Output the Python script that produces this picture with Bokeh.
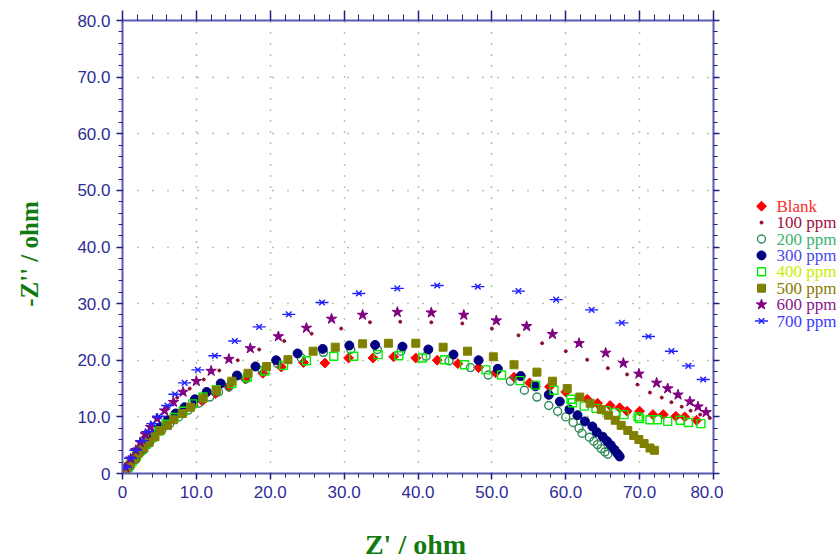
import math
from bokeh.plotting import figure
from bokeh.models import (LinearAxis, SingleIntervalTicker, CustomJSTickFormatter,
                          Range1d, ColumnDataSource)
from bokeh.layouts import row, column
from bokeh.embed import file_html
from bokeh.resources import INLINE
from bokeh.core.properties import value

# ---------------- data (Z' , -Z'' in ohm) ----------------
blank_x = [0.3, 0.7, 1.1, 1.6, 2.2, 2.8, 3.5, 4.3, 5.2, 6.2, 7.3, 8.5, 9.6, 10.8, 12.6, 14.4, 16.6,
           19.0, 21.5, 24.5, 27.4, 30.6, 33.9, 36.7, 39.7, 42.6, 45.4, 48.2, 50.5, 53.0, 55.1, 57.8,
           60.0, 62.9, 64.3, 66.0, 67.3, 68.3, 70.0, 71.8, 73.2, 74.9, 76.1, 77.7]
blank_y = [0.4, 1.1, 1.9, 2.8, 3.8, 4.8, 5.9, 7.0, 8.2, 9.3, 10.4, 11.4, 12.1, 12.8, 14.1, 15.3, 16.7,
           17.7, 18.8, 19.6, 19.5, 20.4, 20.4, 20.6, 20.4, 20.0, 19.4, 18.7, 17.8, 17.0, 16.0, 15.3,
           14.4, 13.1, 12.4, 12.0, 11.6, 11.0, 11.0, 10.4, 10.4, 10.1, 10.0, 9.4]

p100_x = [0.5, 1.2, 2.0, 2.8, 3.8, 4.9, 6.1, 7.4, 9.1, 11.0, 13.1, 15.6, 18.5, 21.9, 25.6, 29.6, 33.5,
          37.6, 41.8, 46.0, 50.0, 53.6, 56.8, 60.0, 62.9, 65.7, 68.3, 69.7, 71.4, 73.0, 74.3, 75.7,
          76.9, 78.2, 79.5]
p100_y = [1.2, 2.8, 4.6, 6.4, 8.1, 9.9, 11.7, 13.4, 15.0, 16.6, 18.2, 20.0, 21.9, 23.4, 24.7, 25.6, 26.7,
          26.8, 26.7, 26.5, 25.6, 24.4, 23.0, 21.6, 20.1, 18.6, 17.5, 15.7, 14.3, 13.4, 12.6, 11.8,
          11.1, 10.4, 9.8]

p200_x = [0.8, 1.6, 2.5, 3.4, 4.3, 5.3, 6.4, 7.6, 8.9, 10.3, 11.8, 13.0, 14.4, 16.7, 18.9, 21.0, 24.2,
          27.2, 30.9, 34.5, 37.7, 41.1, 44.2, 47.1, 49.5, 52.5, 54.4, 56.1, 57.7, 58.9, 60.0, 61.0,
          61.8, 62.2, 63.2, 63.8, 64.3, 64.8, 65.3, 65.7]
p200_y = [1.0, 2.4, 3.8, 5.1, 6.4, 7.6, 8.8, 10.0, 11.2, 12.4, 13.5, 14.4, 15.3, 16.7, 18.2, 19.4, 20.4,
          21.4, 21.9, 21.9, 21.6, 20.7, 19.9, 18.7, 17.4, 16.3, 14.7, 13.5, 12.0, 11.0, 10.0, 9.0,
          8.0, 7.1, 6.4, 5.7, 5.1, 4.4, 3.8, 3.4]

p300_x = [0.9, 1.8, 2.7, 3.6, 4.2, 5.1, 6.1, 7.2, 8.4, 9.8, 11.4, 13.3, 15.5, 18.0, 20.8, 23.7, 27.1,
          30.7, 34.2, 37.9, 41.4, 44.8, 48.2, 50.8, 53.9, 55.9, 57.7, 59.2, 60.5, 61.6, 62.6, 63.6,
          64.2, 65.0, 65.6, 66.1, 66.6, 67.0, 67.3]
p300_y = [1.1, 2.6, 4.1, 5.5, 6.9, 8.2, 9.4, 10.6, 11.7, 13.1, 14.4, 15.9, 17.3, 18.9, 20.0, 21.2, 22.0,
          22.6, 22.7, 22.4, 21.9, 21.0, 20.0, 18.5, 17.2, 15.4, 13.9, 12.7, 11.3, 10.3, 9.2, 8.3,
          7.3, 6.5, 5.7, 5.0, 4.2, 3.5, 3.0]

p400_x = [0.3, 0.8, 1.3, 1.9, 2.5, 3.2, 4.0, 4.9, 5.9, 7.0, 8.2, 9.5, 10.9, 12.7, 14.8, 16.9, 19.3,
          21.8, 24.9, 28.6, 31.3, 34.6, 37.4, 40.6, 43.6, 46.3, 49.2, 51.3, 53.8, 55.9, 58.4, 60.7,
          60.9, 62.5, 64.1, 65.5, 66.7, 67.9, 69.8, 70.0, 71.4, 72.4, 73.8, 75.5, 76.6, 78.3]
p400_y = [0.3, 1.2, 2.1, 3.1, 4.1, 5.2, 6.3, 7.5, 8.7, 9.9, 11.0, 12.3, 13.5, 14.8, 15.9, 17.0, 18.1,
          19.1, 19.9, 20.7, 20.7, 21.0, 20.8, 20.4, 20.1, 19.2, 18.3, 17.4, 16.4, 15.6, 14.7, 13.1,
          12.5, 11.9, 11.5, 11.1, 10.7, 10.4, 10.0, 9.7, 9.5, 9.5, 9.2, 9.4, 9.0, 8.8]

p500_x = [0.2, 0.6, 1.1, 1.7, 2.2, 2.9, 3.6, 4.4, 5.1, 6.1, 6.9, 8.1, 9.2, 10.9, 12.7, 14.8, 17.0,
          19.5, 22.4, 25.8, 28.8, 32.5, 36.0, 39.7, 43.4, 46.7, 50.2, 53.0, 56.1, 58.2, 60.2, 61.9,
          63.3, 64.8, 65.8, 66.7, 67.5, 68.4, 69.2, 69.9, 70.6, 71.4, 72.0]
p500_y = [0.2, 0.8, 1.7, 2.6, 3.6, 4.5, 5.5, 6.5, 7.6, 8.5, 9.5, 10.6, 11.7, 13.3, 14.7, 16.3, 17.7,
          18.9, 20.1, 21.6, 22.3, 22.9, 23.0, 23.0, 22.3, 21.6, 20.6, 19.2, 17.9, 16.3, 15.0, 13.5,
          12.4, 11.3, 10.3, 9.4, 8.5, 7.6, 6.7, 6.0, 5.3, 4.5, 4.1]

p600_x = [0.4, 1.1, 1.8, 2.4, 3.1, 3.8, 4.7, 5.7, 6.9, 8.2, 10.0, 12.0, 14.4, 17.3, 21.1, 24.9, 28.3,
          32.5, 37.2, 41.8, 46.2, 50.6, 54.7, 58.2, 61.8, 65.4, 67.8, 69.9, 72.3, 73.8, 75.2, 76.8,
          77.9, 79.0]
p600_y = [1.1, 2.6, 4.1, 5.5, 6.9, 8.2, 9.7, 11.1, 12.6, 14.4, 16.3, 18.1, 20.2, 22.1, 24.2, 25.7, 27.3,
          28.0, 28.5, 28.4, 28.0, 27.0, 26.0, 24.6, 23.0, 21.3, 19.5, 17.6, 16.0, 15.0, 13.9, 12.7,
          11.8, 10.8]

p700_x = [0.4, 1.1, 1.8, 2.7, 3.4, 4.1, 4.9, 6.1, 7.1, 8.4, 10.2, 12.5, 15.2, 18.5, 22.5, 27.0, 32.0,
          37.2, 42.6, 48.1, 53.6, 58.7, 63.5, 67.6, 71.2, 74.3, 76.6, 78.6]
p700_y = [1.1, 2.7, 4.1, 5.8, 7.4, 8.8, 10.1, 12.0, 14.0, 16.0, 18.3, 20.8, 23.4, 25.9, 28.1, 30.2, 31.8,
          32.7, 33.2, 33.0, 32.2, 30.7, 28.9, 26.6, 24.2, 21.6, 19.0, 16.6]

series_names = ["Blank", "100 ppm", "200 ppm", "300 ppm", "400 ppm", "500 ppm", "600 ppm", "700 ppm"]
xs = [blank_x, p100_x, p200_x, p300_x, p400_x, p500_x, p600_x, p700_x]
ys = [blank_y, p100_y, p200_y, p300_y, p400_y, p500_y, p600_y, p700_y]
label_colors = ["#ff2a2a", "#a0103a", "#3cb371", "#4a4aee", "#c8f000", "#8a7a00", "#8a168a", "#3a3aff"]

x_title = "Z' / ohm"
y_title = "-Z'' / ohm"

# ---------------- styles ----------------
styles = [
    [dict(marker="square", angle=math.pi / 4, size=7, fill_color="#ff0000", line_color="#ff0000")],
    [dict(marker="circle", size=3, fill_color="#8b1030", line_color="#8b1030")],
    [dict(marker="circle", size=8, fill_color=None, line_color="#2e8b57", line_width=1.4)],
    [dict(marker="circle", size=9, fill_color="#000080", line_color="#000080")],
    [dict(marker="square", size=8, fill_color=None, line_color="#00ee00", line_width=1.4)],
    [dict(marker="square", size=8, fill_color="#808000", line_color="#808000")],
    [dict(marker="star", size=11, fill_color="#800080", line_color="#800080")],
    [dict(marker="x", size=8, line_color="#2020ff", line_width=1.4),
     dict(marker="dash", size=13, line_color="#2020ff", line_width=1.4)],
]

LEFT_W = 50      # strip holding the y title
MAIN_W = 673     # main plot (frame 591 px wide)
MAIN_H = 526
LW = 113         # legend strip
TOTAL_W = LEFT_W + MAIN_W + LW
BOT_H = 34
FR_TOP = 20      # frame top (px from top)
FR_BOT = 473     # frame bottom (px from top)
TITLE_C = "#117a11"


def blank_fig(w, h, yr=None):
    f = figure(width=w, height=h, x_range=Range1d(0, w),
               y_range=yr if yr is not None else Range1d(0, h),
               output_backend="svg", toolbar_location=None, min_border=0,
               outline_line_color=None, background_fill_color="white", border_fill_color="white")
    f.axis.visible = False
    f.grid.visible = False
    return f


p = figure(width=MAIN_W, height=MAIN_H, x_range=Range1d(0, 80), y_range=Range1d(0, 80),
           output_backend="svg", toolbar_location=None,
           min_border_left=72, min_border_right=10, min_border_top=FR_TOP,
           min_border_bottom=MAIN_H - FR_BOT, outline_line_color=None,
           background_fill_color="white", border_fill_color="white")

ticker = SingleIntervalTicker(interval=10, num_minor_ticks=5)
fmt = CustomJSTickFormatter(code="return tick == 0 ? '0' : tick.toFixed(1);")
nofmt = CustomJSTickFormatter(code="return '';")

AX_LINE = "#5a5ab4"
TICK_C = "#1e1e80"
LAB_C = "#2d2d96"

for ax in (p.xaxis[0], p.yaxis[0]):
    ax.ticker = ticker
    ax.formatter = fmt
    ax.axis_line_color = AX_LINE
    ax.axis_line_width = 2
    ax.major_tick_line_color = TICK_C
    ax.minor_tick_line_color = TICK_C
    ax.major_tick_line_width = 1.5
    ax.major_tick_in = 0
    ax.major_tick_out = 6
    ax.minor_tick_in = 0
    ax.minor_tick_out = 4
    ax.major_label_text_font = "Liberation Sans"
    ax.major_label_text_font_size = "17px"
    ax.major_label_text_color = LAB_C
    ax.major_label_standoff = 6

for side, tick_out, minor_out in (("above", 10, 6), ("right", 6, 4)):
    extra = LinearAxis(ticker=ticker, formatter=nofmt, major_label_text_font_size="1px",
                       major_label_standoff=0,
                       axis_line_color=AX_LINE, axis_line_width=2,
                       major_tick_line_color=TICK_C, minor_tick_line_color=TICK_C,
                       major_tick_line_width=1.5,
                       major_tick_in=0, major_tick_out=tick_out, minor_tick_in=0, minor_tick_out=minor_out)
    p.add_layout(extra, side)

p.xgrid.ticker = ticker
p.ygrid.ticker = ticker
p.grid.grid_line_color = "#5f9a35"
p.grid.grid_line_width = 1.5
p.xgrid.grid_line_dash = "1 10"
p.ygrid.grid_line_dash = "1 14"

for xv, yv, st in zip(xs, ys, styles):
    src = ColumnDataSource(dict(x=xv, y=yv))
    for s in st:
        p.scatter("x", "y", source=src, **s)

# side strips share the main frame's vertical extent (Bokeh aligns frames in a row),
# so their y range is expressed as "pixels up from the strip's bottom edge"
strip_range = lambda: Range1d(MAIN_H - FR_BOT, MAIN_H - FR_TOP)

# ---------------- axis titles ----------------
left = blank_fig(LEFT_W, MAIN_H, strip_range())
left.text([28.5], [MAIN_H - 253.5], text=[y_title], angle=math.pi / 2, text_align="center",
          text_baseline="middle", text_color=TITLE_C, text_font=value("Liberation Serif"),
          text_font_style="bold", text_font_size="25px")

bottom = blank_fig(TOTAL_W, BOT_H)
bottom.text([415], [BOT_H - 18], text=[x_title], text_align="center",
            text_baseline="middle", text_color=TITLE_C, text_font=value("Liberation Serif"),
            text_font_style="bold", text_font_size="28px")

# ---------------- legend panel ----------------
lg = blank_fig(LW, MAIN_H, strip_range())
top_row = 205.7
step = 16.4
mark_x = 38
text_x = 53
for i, (name, st, col) in enumerate(zip(series_names, styles, label_colors)):
    yy = MAIN_H - (top_row + step * i)
    for s in st:
        lg.scatter([mark_x], [yy], **s)
    lg.text([text_x], [yy], text=[name], text_color=col, text_baseline="middle",
            text_font=value("Liberation Serif"), text_font_size="17px")

layout = column(row(left, p, lg), bottom)
open("out.html", "w").write(file_html(layout, INLINE))
